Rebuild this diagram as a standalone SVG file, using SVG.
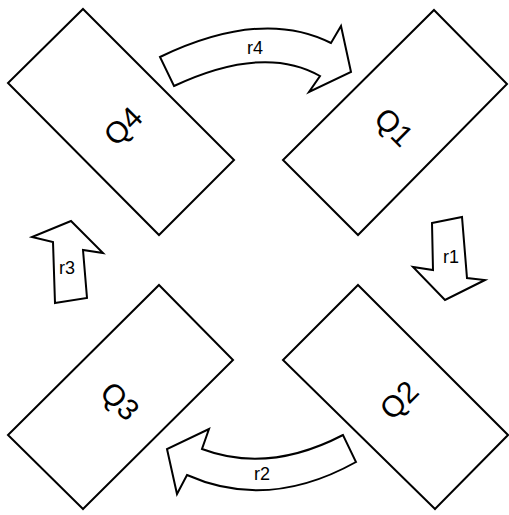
<svg xmlns="http://www.w3.org/2000/svg" width="509" height="515" viewBox="0 0 509 515">
<style>
.box{fill:#fff;stroke:#000;stroke-width:2;stroke-linejoin:miter}
.arr{fill:#fff;stroke:#000;stroke-width:2;stroke-linejoin:miter}
.q{font-family:"Liberation Sans",Arial,sans-serif;font-size:30px;fill:#000;text-anchor:middle;dominant-baseline:central}
.r{font-family:"Liberation Sans",Arial,sans-serif;font-size:18px;fill:#000;text-anchor:middle}
</style>
<rect width="509" height="515" fill="#fff"/>
<g id="Q4">
<polygon class="box" points="83,9 234,160 159,235 8,83"/>
<text class="q" x="123" y="126" transform="rotate(-45 123 126)">Q4</text>
</g>
<g id="Q1">
<polygon class="box" points="434,10 507,84 358,235 283,160"/>
<text class="q" x="394" y="127" transform="rotate(45 394 127)">Q1</text>
</g>
<g id="Q2">
<polygon class="box" points="358,285 508,435 435,509 283,360"/>
<text class="q" x="399" y="400" transform="rotate(-45 399 400)">Q2</text>
</g>
<g id="Q3">
<polygon class="box" points="159,285 233,360 83,509 8,435"/>
<text class="q" x="120" y="401" transform="rotate(45 120 401)">Q3</text>
</g>
<g id="connectors">
<g id="r4">
<path class="arr" d="M160,57 Q262,8 331,43 L341,26 L351,72 L309,92 L320,76 Q264,44 174,86 Z"/>
<text class="r" x="255" y="54">r4</text>
</g>
<g id="r1">
<path class="arr" d="M432,223 L462,217 L467,278 L485,280 L445,300 L413,267 L433,270 Z"/>
<text class="r" x="451" y="263">r1</text>
</g>
<g id="r2">
<path class="arr" d="M343,435 Q268,474 202,449 L209,429 L167,449 L177,494 L187,475 Q268,511 356,462 Z"/>
<text class="r" x="262" y="480">r2</text>
</g>
<g id="r3">
<path class="arr" d="M55,303 L87,298 L83,250 L103,253 L71,221 L32,237 L53,242 Z"/>
<text class="r" x="67" y="274">r3</text>
</g>
</g>
</svg>
